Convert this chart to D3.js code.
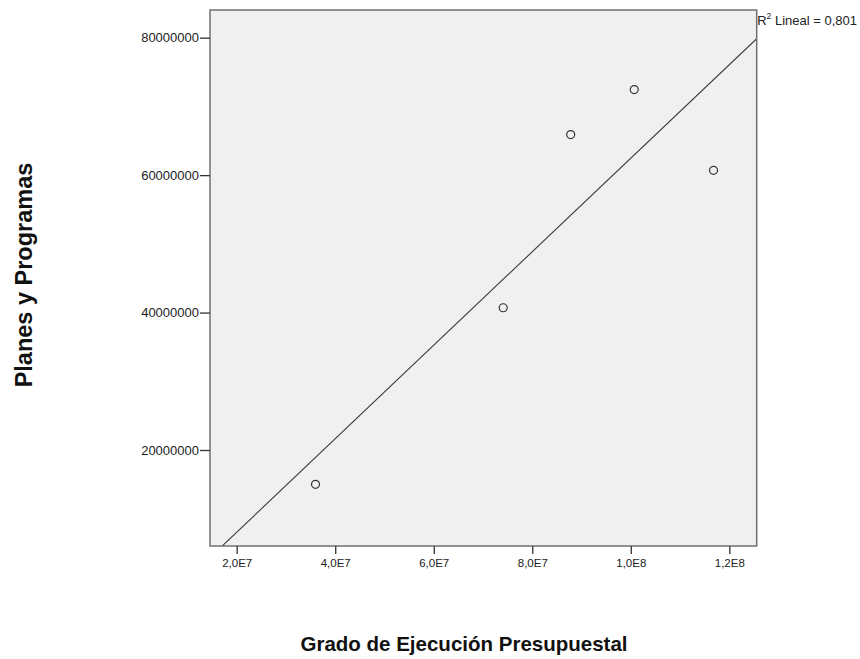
<!DOCTYPE html>
<html>
<head>
<meta charset="utf-8">
<script src="https://cdn.jsdelivr.net/npm/d3@7"></script>
<style>
  html, body { margin: 0; padding: 0; background: #fff; }
  svg { display: block; font-family: "Liberation Sans", Arial, sans-serif; }
</style>
</head>
<body>
<svg id="chart" width="860" height="659"></svg>
<script>
// Grado de Ejecución Presupuestal (x) vs Planes y Programas (y)
const ejecucion = [36000000, 74100000, 87800000, 100700000, 116800000];
const planes    = [15000000, 40700000, 65900000, 72450000, 60700000];

const xTicks = [20000000, 40000000, 60000000, 80000000, 100000000, 120000000];
const xTickLabels = ["2,0E7", "4,0E7", "6,0E7", "8,0E7", "1,0E8", "1,2E8"];
const yTicks = [20000000, 40000000, 60000000, 80000000];
const yTickLabels = ["20000000", "40000000", "60000000", "80000000"];

const xDomain = [14580000, 125560000];
const yDomain = [6030000, 84030000];

const svg = d3.select("#chart");
const plot = { left: 210, top: 10, right: 756.7, bottom: 546 };

const x = d3.scaleLinear().domain(xDomain).range([plot.left, plot.right]);
const y = d3.scaleLinear().domain(yDomain).range([plot.bottom, plot.top]);

// plot background
svg.append("rect")
  .attr("x", plot.left).attr("y", plot.top)
  .attr("width", plot.right - plot.left).attr("height", plot.bottom - plot.top)
  .attr("fill", "#f0f0f0");

// least-squares fit line
const mx = d3.mean(ejecucion), my = d3.mean(planes);
let sxy = 0, sxx = 0;
ejecucion.forEach((v, i) => { sxy += (v - mx) * (planes[i] - my); sxx += (v - mx) * (v - mx); });
const slope = sxy / sxx, intercept = my - slope * mx;

svg.append("clipPath").attr("id", "plotclip")
  .append("rect")
  .attr("x", plot.left).attr("y", plot.top)
  .attr("width", plot.right - plot.left).attr("height", plot.bottom - plot.top);

svg.append("line")
  .attr("clip-path", "url(#plotclip)")
  .attr("x1", x(xDomain[0])).attr("y1", y(slope * xDomain[0] + intercept))
  .attr("x2", x(xDomain[1])).attr("y2", y(slope * xDomain[1] + intercept))
  .attr("stroke", "#3a3a3a").attr("stroke-width", 1.1);

// data points
svg.append("g").selectAll("circle")
  .data(ejecucion.map((v, i) => [v, planes[i]]))
  .join("circle")
  .attr("cx", d => x(d[0])).attr("cy", d => y(d[1]))
  .attr("r", 4)
  .attr("fill", "none").attr("stroke", "#333").attr("stroke-width", 1.2);

// frame
svg.append("rect")
  .attr("x", plot.left).attr("y", plot.top)
  .attr("width", plot.right - plot.left).attr("height", plot.bottom - plot.top)
  .attr("fill", "none").attr("stroke", "#707070").attr("stroke-width", 1.5);

// axes
const xAxis = d3.axisBottom(x).tickValues(xTicks)
  .tickFormat((d, i) => xTickLabels[i]).tickSize(8).tickSizeOuter(0).tickPadding(5);
const yAxis = d3.axisLeft(y).tickValues(yTicks)
  .tickFormat((d, i) => yTickLabels[i]).tickSize(10).tickSizeOuter(0).tickPadding(1);

const gx = svg.append("g").attr("transform", `translate(0,${plot.bottom})`).call(xAxis);
const gy = svg.append("g").attr("transform", `translate(${plot.left},0)`).call(yAxis);
[gx, gy].forEach(g => {
  g.select(".domain").remove();
  g.selectAll(".tick line").attr("stroke", "#333").attr("stroke-width", 1.3);
  g.selectAll(".tick text").attr("fill", "#222")
    .style("font-family", "'Liberation Sans', Arial, sans-serif");
});
gx.selectAll(".tick text").style("font-size", "11.5px");
gy.selectAll(".tick text").style("font-size", "13px");

// fit label
const r2 = svg.append("text")
  .attr("x", plot.right + 0.5).attr("y", 24.5)
  .attr("fill", "#222").style("font-size", "13px");
r2.append("tspan").text("R");
r2.append("tspan").attr("dy", -6).style("font-size", "8.5px").text("2");
r2.append("tspan").attr("dy", 6).text(" Lineal = 0,801");

// axis titles
svg.append("text")
  .attr("x", 464).attr("y", 651)
  .attr("text-anchor", "middle")
  .attr("fill", "#111").style("font-size", "20.5px").style("font-weight", "bold")
  .text("Grado de Ejecución Presupuestal");

svg.append("text")
  .attr("transform", "translate(32,275) rotate(-90)")
  .attr("text-anchor", "middle")
  .attr("fill", "#111").style("font-size", "23.5px").style("font-weight", "bold")
  .text("Planes y Programas");
</script>
</body>
</html>
